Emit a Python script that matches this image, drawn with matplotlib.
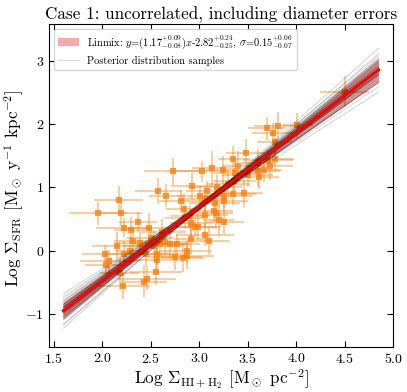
import numpy as np
import matplotlib
matplotlib.use('Agg')
import matplotlib.pyplot as plt
from matplotlib.patches import Patch
from matplotlib.lines import Line2D

plt.rcParams['font.family'] = 'serif'
plt.rcParams['font.serif'] = ['cmr10', 'DejaVu Serif']
plt.rcParams['mathtext.fontset'] = 'cm'
plt.rcParams['axes.formatter.use_mathtext'] = True
plt.rcParams['axes.unicode_minus'] = True

# measured points (log gas surface density, log SFR surface density)
log_gas = [1.96, 2.17, 2.19, 2.22, 2.37, 2.30, 2.15, 2.03, 2.07, 2.23,
           2.29, 2.32, 2.39, 2.48, 2.55, 2.46, 2.43, 2.21, 2.18, 2.58,
           2.66, 2.73, 2.93, 3.03, 3.13, 3.25, 3.35, 2.81, 2.84, 2.60,
           2.70, 2.77, 2.75, 2.83, 2.87, 2.92, 2.96, 2.99, 3.06, 3.10,
           3.17, 3.20, 3.26, 3.26, 2.56, 2.57, 4.50, 4.01, 3.81, 3.70,
           3.76, 3.78, 3.48, 3.40, 3.37, 3.71, 3.78, 3.73, 3.67, 3.61,
           3.62, 3.18, 3.08, 3.26, 3.35, 3.46, 3.06, 3.16, 3.06, 3.61,
           3.15, 2.92, 2.87, 2.53, 2.65, 2.45, 2.04, 2.91, 3.01, 3.36,
           2.62, 2.85, 3.30, 3.50, 2.50]
log_sfr = [0.59, 0.80, 0.59, 0.36, 0.45, 0.33, 0.08, -0.05, -0.17, -0.05,
           -0.01, 0.16, 0.12, 0.36, -0.34, -0.44, -0.49, -0.56, -0.36, 0.94,
           0.87, 1.25, 1.02, 1.25, 1.30, 1.28, 1.45, 0.78, 0.66, 0.11,
           0.11, 0.11, -0.10, -0.12, -0.01, 0.19, 0.37, 0.38, 0.25, 0.15,
           0.60, 0.49, 0.46, 0.78, -0.05, -0.15, 2.51, 1.98, 1.97, 1.93,
           1.86, 1.72, 1.54, 1.34, 1.22, 1.43, 1.44, 1.34, 1.28, 1.25,
           1.17, 1.01, 0.94, 0.87, 0.90, 0.91, 0.81, 0.75, 0.57, 1.39,
           0.63, 0.44, -0.09, 0.07, 0.13, -0.06, -0.22, 0.54, 0.86, 1.10,
           0.30, 0.52, 1.05, 1.20, 0.20]
gas_err = [0.30, 0.25, 0.22, 0.28, 0.20, 0.18, 0.26, 0.24, 0.30, 0.22,
           0.16, 0.20, 0.25, 0.22, 0.27, 0.30, 0.24, 0.28, 0.20, 0.24,
           0.18, 0.30, 0.22, 0.28, 0.20, 0.18, 0.16, 0.22, 0.18, 0.26,
           0.20, 0.24, 0.28, 0.22, 0.26, 0.18, 0.20, 0.24, 0.30, 0.22,
           0.18, 0.16, 0.20, 0.24, 0.26, 0.22, 0.25, 0.16, 0.24, 0.20,
           0.22, 0.18, 0.20, 0.16, 0.22, 0.26, 0.20, 0.24, 0.18, 0.22,
           0.20, 0.26, 0.22, 0.28, 0.24, 0.20, 0.22, 0.26, 0.24, 0.18,
           0.20, 0.22, 0.28, 0.30, 0.24, 0.26, 0.22, 0.20, 0.24, 0.22,
           0.24, 0.20, 0.22, 0.26, 0.24]
sfr_err = [0.18, 0.22, 0.20, 0.15, 0.16, 0.20, 0.22, 0.14, 0.18, 0.20,
           0.22, 0.18, 0.16, 0.24, 0.20, 0.18, 0.24, 0.20, 0.26, 0.20,
           0.18, 0.22, 0.20, 0.16, 0.28, 0.22, 0.20, 0.18, 0.24, 0.20,
           0.22, 0.16, 0.20, 0.22, 0.18, 0.24, 0.16, 0.20, 0.18, 0.22,
           0.26, 0.24, 0.20, 0.16, 0.18, 0.22, 0.24, 0.20, 0.22, 0.18,
           0.16, 0.20, 0.22, 0.24, 0.20, 0.16, 0.18, 0.22, 0.20, 0.24,
           0.20, 0.18, 0.16, 0.20, 0.18, 0.22, 0.20, 0.24, 0.20, 0.22,
           0.18, 0.22, 0.20, 0.24, 0.18, 0.20, 0.22, 0.18, 0.16, 0.20,
           0.20, 0.18, 0.22, 0.20, 0.18]

# posterior samples of the linmix fit
post_slope = [1.17, 1.12, 1.22, 1.09, 1.25, 1.15, 1.19, 1.05, 1.29, 1.14,
              1.20, 1.10, 1.24, 1.17, 1.13, 1.21, 1.08, 1.26, 1.16, 1.18,
              1.02, 1.32, 1.11, 1.23, 1.15, 1.19, 1.06, 1.28, 1.13, 1.21,
              1.17, 1.10, 1.24, 1.14, 1.20, 0.98, 1.36, 1.16, 1.18, 1.12]
post_icpt = [-2.82, -2.64, -2.99, -2.54, -3.09, -2.75, -2.89, -2.44, -3.22, -2.68,
             -2.96, -2.61, -3.01, -2.85, -2.71, -2.91, -2.57, -3.08, -2.75, -2.89,
             -2.36, -3.29, -2.67, -2.97, -2.78, -2.86, -2.49, -3.13, -2.69, -2.95,
             -2.77, -2.65, -3.04, -2.73, -2.88, -2.25, -3.40, -2.84, -2.83, -2.66]
best_slope = 1.17
best_icpt = -2.82
x_range = [1.6, 4.85]

fig = plt.figure(figsize=(4.07, 3.92), dpi=100)
ax = fig.add_axes([0.120, 0.115, 0.846, 0.824])

xx = np.linspace(x_range[0], x_range[1], 50)
samples = np.array([m * xx + b for m, b in zip(post_slope, post_icpt)])
lo = np.percentile(samples, 10, axis=0)
hi = np.percentile(samples, 90, axis=0)
ax.fill_between(xx, lo, hi, color='red', alpha=0.3, lw=0, zorder=2)
for yy in samples:
    ax.plot(xx, yy, color='k', alpha=0.18, lw=0.7, zorder=3)
ax.plot(xx, best_slope * xx + best_icpt, color='red', lw=2.2, zorder=4)

ax.errorbar(log_gas, log_sfr, xerr=gas_err, yerr=sfr_err, fmt='none',
            ecolor='#ff7f0e', alpha=0.4, elinewidth=1.4, zorder=1)
ax.scatter(log_gas, log_sfr, marker='s', s=22, color='#ff7f0e', alpha=0.8,
           lw=0, zorder=1.5)

ax.set_xlim(1.45, 5.0)
ax.set_ylim(-1.52, 3.58)
ax.set_xticks([1.5, 2.0, 2.5, 3.0, 3.5, 4.0, 4.5, 5.0])
ax.set_yticks([-1, 0, 1, 2, 3])
ax.tick_params(direction='in', top=True, right=True, labelsize=10, length=4)
ax.set_xlabel(r'Log $\Sigma_{\rm HI+H_2}$ [M$_\odot$ pc$^{-2}$]', fontsize=12.3, labelpad=1)
ax.set_ylabel(r'Log $\Sigma_{\rm SFR}$ [M$_\odot$ y$^{-1}$ kpc$^{-2}$]', fontsize=12.3)
ax.yaxis.set_label_coords(-0.065, 0.49)
ax.set_title('Case 1: uncorrelated, including diameter errors', fontsize=12.3, pad=3)

handles = [Patch(color='red', alpha=0.35, lw=0),
           Line2D([], [], color='k', alpha=0.15, lw=0.8)]
labels = [r'Linmix: $y$=(1.17$^{+0.09}_{-0.08}$)$x$-2.82$^{+0.24}_{-0.25}$, $\sigma$=0.15$^{+0.06}_{-0.07}$',
          'Posterior distribution samples']
ax.legend(handles, labels, loc='upper left', fontsize=7.5, frameon=True)

fig.savefig('out.png', dpi=100)
